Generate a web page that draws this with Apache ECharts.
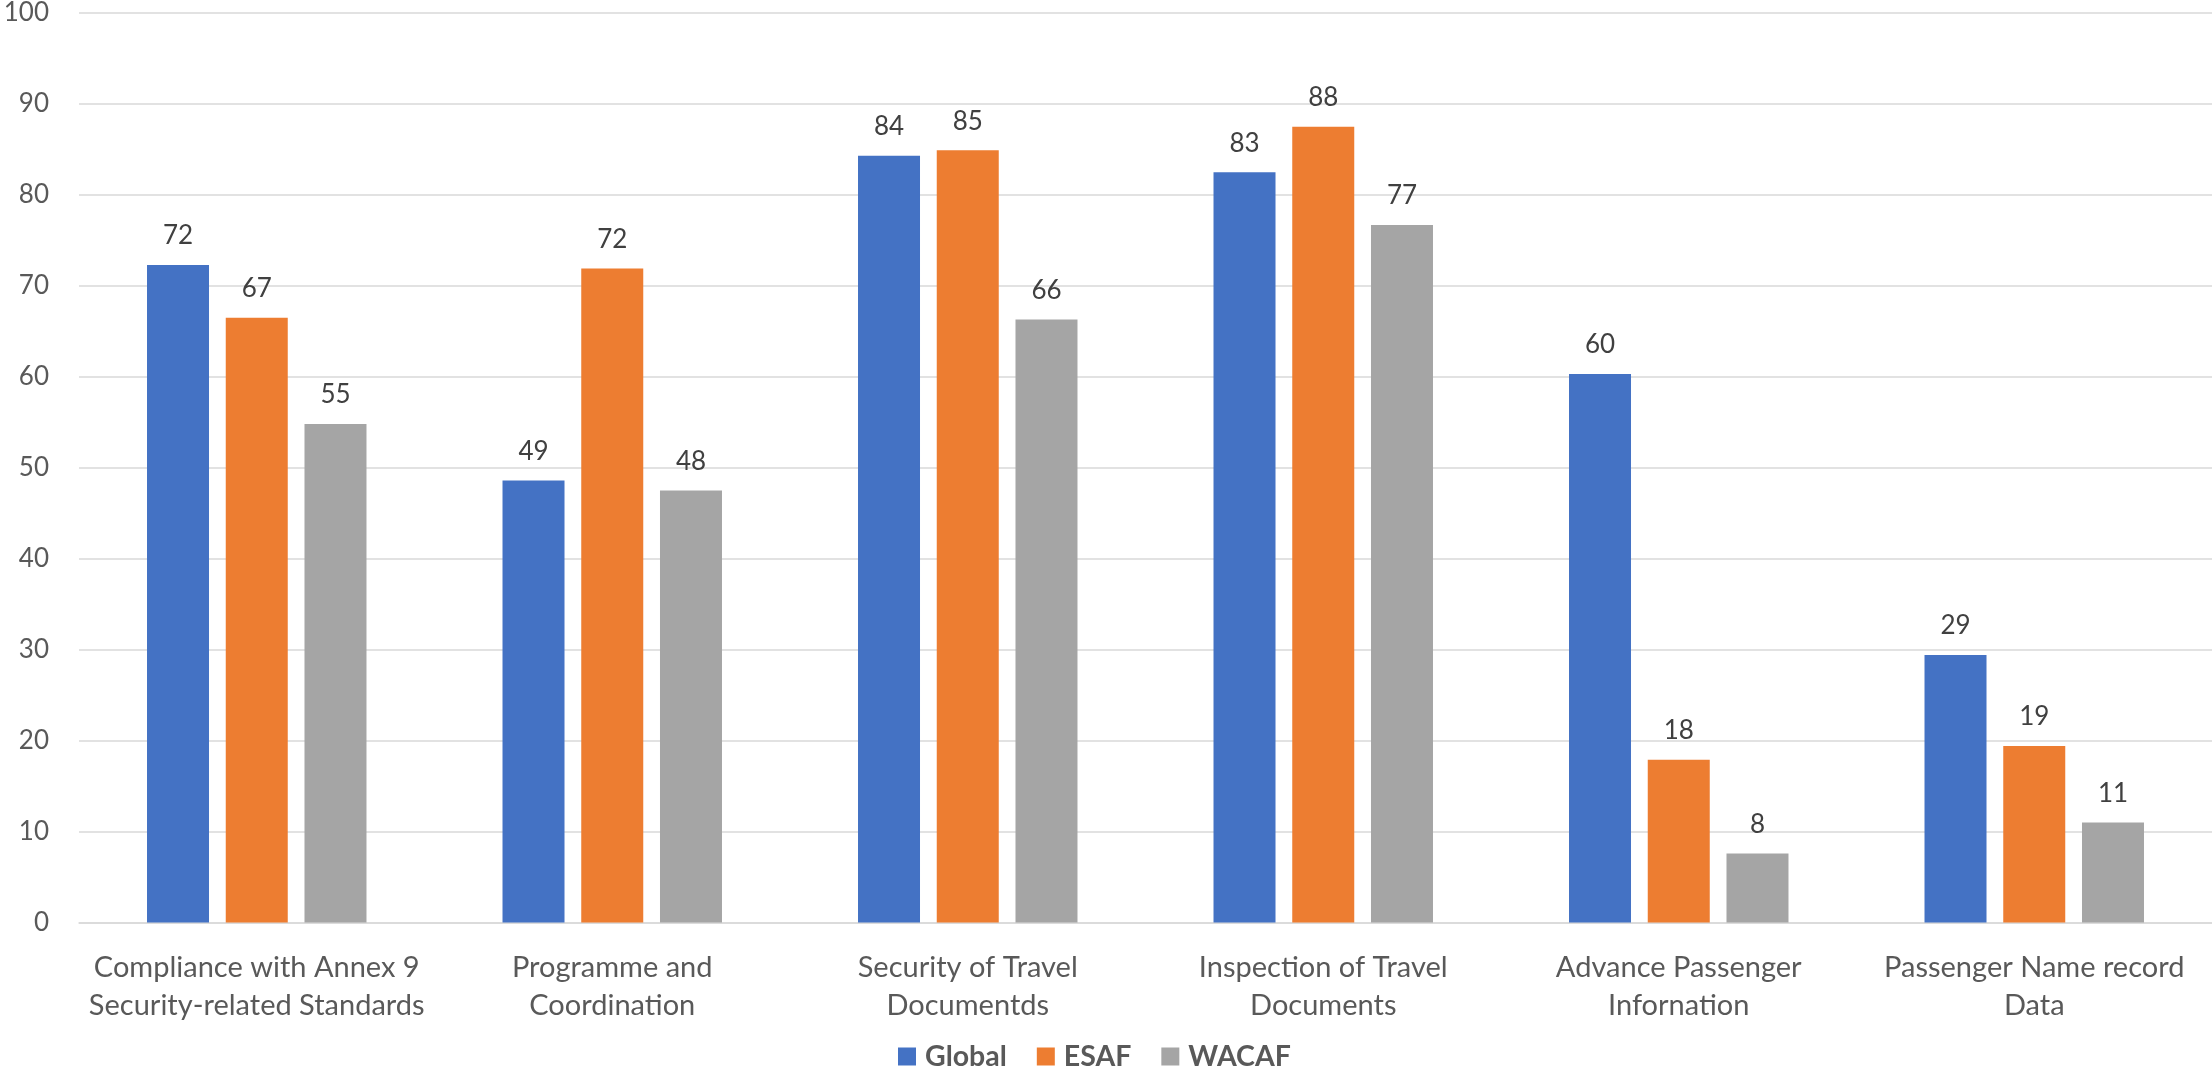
<!DOCTYPE html>
<html>
<head>
<meta charset="utf-8">
<script src="https://cdn.jsdelivr.net/npm/echarts@6/dist/echarts.min.js"></script>
<style>
html,body{margin:0;padding:0;background:#fff;}
#chart{width:2212px;height:1071px;}
</style>
</head>
<body>
<div id="chart"></div>
<script>
const categories = [
  "Compliance with Annex 9\nSecurity-related Standards",
  "Programme and\nCoordination",
  "Security of Travel\nDocumentds",
  "Inspection of Travel\nDocuments",
  "Advance Passenger\nInfornation",
  "Passenger Name record\nData"
];
const seriesNames = ["Global", "ESAF", "WACAF"];
const globalValues = [72.3, 48.6, 84.3, 82.5, 60.3, 29.4];
const esafValues = [66.5, 71.9, 84.9, 87.5, 17.9, 19.4];
const wacafValues = [54.8, 47.5, 66.3, 76.7, 7.6, 11.0];
const yTicks = { min: 0, max: 100, interval: 10 };
const colors = ["#4472C4", "#ED7D31", "#A5A5A5"];

const FONT = "Lato";
const chart = echarts.init(document.getElementById('chart'), null, { renderer: 'canvas' });

function mkSeries(name, data, color) {
  return {
    name: name,
    type: 'bar',
    data: data,
    barWidth: 62,
    barGap: '27%',
    itemStyle: { color: color },
    label: {
      show: true,
      position: 'top',
      distance: 16,
      color: '#404040',
      fontFamily: FONT,
      fontSize: 26,
      formatter: p => String(Math.round(p.value))
    }
  };
}

chart.setOption({
  animation: false,
  backgroundColor: '#ffffff',
  grid: { left: 79, right: 0, top: 12, bottom: 148.5, containLabel: false },
  legend: {
    data: seriesNames,
    left: 898,
    top: 1042,
    itemWidth: 18,
    itemHeight: 18,
    itemGap: 30,
    icon: 'rect',
    padding: 0,
    textStyle: { fontFamily: FONT, fontSize: 28.5, fontWeight: 'bold', color: '#595959', padding: [0, 0, 0, 4] }
  },
  xAxis: {
    type: 'category',
    data: categories,
    axisLine: { show: true, lineStyle: { color: '#D9D9D9', width: 1.5 } },
    axisTick: { show: false },
    axisLabel: {
      interval: 0,
      margin: 26,
      color: '#595959',
      fontFamily: FONT,
      fontSize: 29,
      lineHeight: 38,
      align: 'center'
    }
  },
  yAxis: {
    type: 'value',
    min: yTicks.min,
    max: yTicks.max,
    interval: yTicks.interval,
    axisLine: { show: false },
    axisTick: { show: false },
    splitLine: { lineStyle: { color: '#D9D9D9', width: 1.5 } },
    axisLabel: { margin: 30, color: '#595959', fontFamily: FONT, fontSize: 26 }
  },
  series: [
    mkSeries(seriesNames[0], globalValues, colors[0]),
    mkSeries(seriesNames[1], esafValues, colors[1]),
    mkSeries(seriesNames[2], wacafValues, colors[2])
  ]
});
</script>
</body>
</html>
